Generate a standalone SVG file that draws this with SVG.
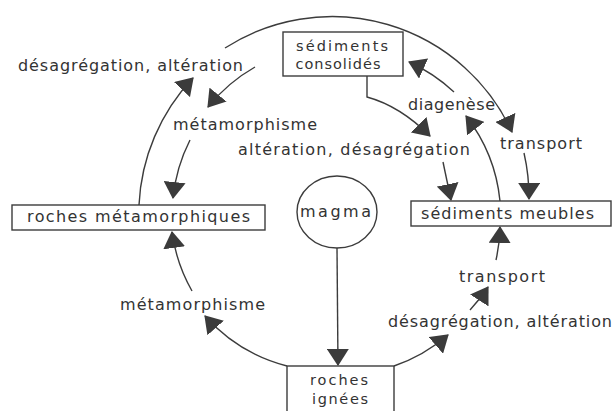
<svg xmlns="http://www.w3.org/2000/svg" width="615" height="411" viewBox="0 0 615 411">
<style>
.box{fill:#fff;stroke:#3c3c3c;stroke-width:1.4}
.t{font-family:"DejaVu Sans","Liberation Sans",sans-serif;font-size:16px;fill:#333}
.s{font-size:14.5px}
.c{fill:none;stroke:#3c3c3c;stroke-width:1.4;marker-end:url(#ah)}
</style>
<defs>
<marker id="ah" viewBox="0 0 17 22" refX="16" refY="11" markerWidth="17" markerHeight="22" markerUnits="userSpaceOnUse" orient="auto">
<path d="M0,0 L17,11 L0,22 Z" fill="#3b3b3b"/>
</marker>
</defs>
<rect width="615" height="411" fill="#fff"/>

<g id="connectors">
<path class="c" d="M139,205 A198,198 0 0 1 193,78"/>
<path class="c" d="M225,48 A198,198 0 0 1 512,132"/>
<path class="c" d="M524,153 A198,198 0 0 1 529,199"/>
<path class="c" d="M255,67 A165,165 0 0 0 208,107"/>
<path class="c" d="M190,140 A165,165 0 0 0 173,198"/>
<path class="c" d="M287,366 A165,165 0 0 1 205,316"/>
<path class="c" d="M192,291 A165,165 0 0 1 172,232"/>
<path class="c" d="M394,366 A165,165 0 0 0 448,335"/>
<path class="c" d="M470,310 A165,165 0 0 0 488,287"/>
<path class="c" d="M496,260 A165,165 0 0 0 500,227"/>
<path class="c" d="M500,201 A165,165 0 0 0 466,116"/>
<path class="c" d="M454,92 A165,165 0 0 0 409,62"/>
<path class="c" d="M367,76 L367,97 Q400,106 430,136"/>
<path class="c" d="M443,162 L451,200"/>
<path class="c" d="M337,248 L338,365"/>
</g>

<g id="sediments-consolides">
<rect class="box" x="283" y="32" width="120" height="44"/>
<text class="t s" x="342" y="51" text-anchor="middle" textLength="92">sédiments</text>
<text class="t s" x="338" y="69" text-anchor="middle" textLength="85">consolidés</text>
</g>

<g id="roches-metamorphiques">
<rect class="box" x="12" y="205" width="253" height="25"/>
<text class="t" x="27" y="222" textLength="223">roches  métamorphiques</text>
</g>

<g id="magma">
<ellipse class="box" cx="337" cy="212" rx="40" ry="36"/>
<text class="t" x="300" y="217" textLength="71">magma</text>
</g>

<g id="sediments-meubles">
<rect class="box" x="411" y="201" width="200" height="25"/>
<text class="t" x="421" y="219" textLength="173">sédiments meubles</text>
</g>

<g id="roches-ignees">
<rect class="box" x="287" y="366" width="107" height="60"/>
<text class="t s" x="310" y="385" textLength="58">roches</text>
<text class="t s" x="312" y="404" textLength="56">ignées</text>
</g>

<g id="labels">
<text class="t" x="18" y="71" textLength="225">désagrégation, altération</text>
<text class="t" x="173" y="130" textLength="144">métamorphisme</text>
<text class="t" x="238" y="155" textLength="232">altération, désagrégation</text>
<text class="t" x="408" y="110" textLength="87">diagenèse</text>
<text class="t" x="500" y="149" textLength="82">transport</text>
<text class="t" x="120" y="310" textLength="145">métamorphisme</text>
<text class="t" x="459" y="282" textLength="86">transport</text>
<text class="t" x="388" y="327" textLength="224">désagrégation, altération</text>
</g>
</svg>
